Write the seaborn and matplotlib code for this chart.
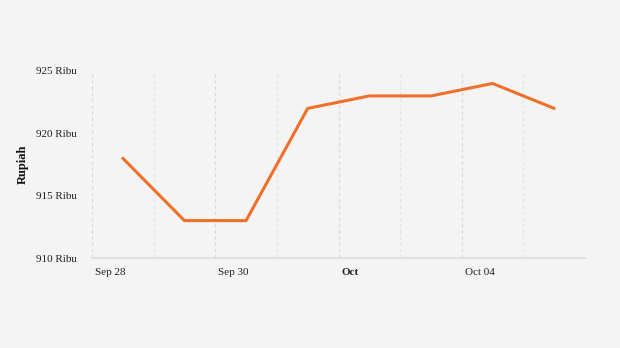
import matplotlib
matplotlib.use("Agg")
import matplotlib.pyplot as plt
import matplotlib.transforms as mtransforms
import seaborn as sns
import pandas as pd

dates = ["2023-09-28 12:00", "2023-09-29 12:00", "2023-09-30 12:00", "2023-10-01 12:00",
         "2023-10-02 12:00", "2023-10-03 12:00", "2023-10-04 12:00", "2023-10-05 12:00"]
values = [918, 913, 913, 922, 923, 923, 924, 922]
y_ticks = [910, 915, 920, 925]
y_labels = ["910 Ribu", "915 Ribu", "920 Ribu", "925 Ribu"]
x_tick_dates = ["2023-09-28", "2023-09-30", "2023-10-02", "2023-10-04"]
x_tick_labels = ["Sep 28", "Sep 30", "Oct", "Oct 04"]

df = pd.DataFrame({"date": pd.to_datetime(dates), "value": values})

sns.set_style("white")
plt.rcParams["font.family"] = ["Liberation Serif", "DejaVu Serif"]

bg = "#f4f4f4"
fig = plt.figure(figsize=(6.2, 3.48), dpi=100, facecolor=bg)
ax = fig.add_axes([92/620, 1-258/348, (585-92)/620, (258-71)/348])
ax.set_facecolor(bg)

sns.lineplot(data=df, x="date", y="value", ax=ax, color="#f07029", linewidth=2.2)

ax.set_xlim(pd.Timestamp("2023-09-28"), pd.Timestamp("2023-10-06"))
ax.set_ylim(910, 925)

# gridlines
days = pd.date_range("2023-09-28", "2023-10-06", freq="D")
for i, d in enumerate(days):
    major = (i % 2 == 0)
    ax.axvline(d, color="#d8d8d8" if major else "#e4e4e4", linestyle=(0, (2.5, 2.5)),
               linewidth=0.9, zorder=0)

ax.set_xticks(pd.to_datetime(x_tick_dates))
ax.set_xticklabels(x_tick_labels)
ax.set_xticks(days, minor=True)
ax.tick_params(axis="x", which="both", length=4, color="#d8d8d8", pad=3, direction="out", width=1)

ax.set_yticks(y_ticks)
ax.set_yticklabels(y_labels, fontsize=8, color="#222222")
ax.tick_params(axis="y", length=4, color="#e8e8e8", pad=7)

offset = mtransforms.ScaledTranslation(3/100, 0, fig.dpi_scale_trans)
for lbl in ax.get_xticklabels():
    lbl.set_horizontalalignment("left")
    lbl.set_fontsize(8)
    lbl.set_color("#222222")
    lbl.set_transform(lbl.get_transform() + offset)
    if lbl.get_text() == "Oct":
        lbl.set_fontweight("bold")

for s in ["top", "right"]:
    ax.spines[s].set_visible(False)
ax.spines["left"].set_visible(False)
ax.spines["bottom"].set_color("#dddddd")
ax.spines["bottom"].set_linewidth(1.2)

ax.set_xlabel("")
ax.set_ylabel("Rupiah", fontsize=9, fontweight="bold", color="#111111")
ax.yaxis.set_label_coords(-0.128, 0.5)

fig.savefig("out.png", dpi=100, facecolor=bg)
